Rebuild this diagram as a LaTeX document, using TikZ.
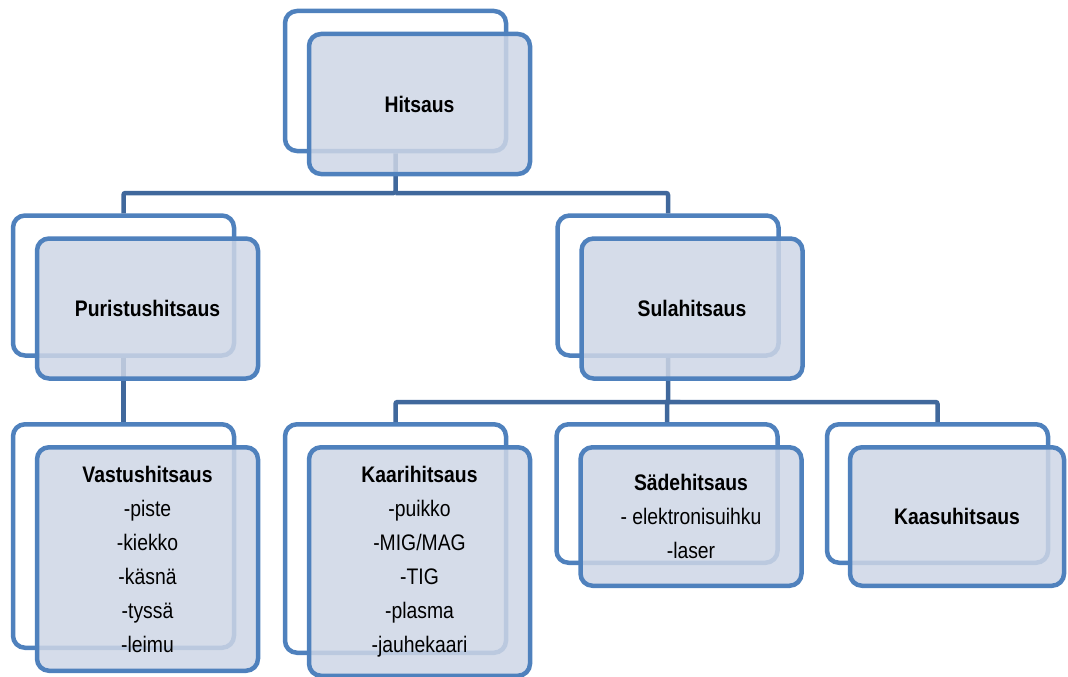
\documentclass[tikz,border=0pt]{standalone}
\usepackage{fontspec}
\setmainfont{Liberation Sans}[FakeStretch=0.86]
\usetikzlibrary{positioning}
\definecolor{boxline}{RGB}{79,129,189}
\definecolor{boxfill}{RGB}{206,214,230}
\definecolor{linkline}{RGB}{64,104,156}
\tikzset{
        back/.style={ % Outline box behind each entry
            draw=boxline, line width=4.5pt, rounded corners=12pt, fill=white,
            minimum width=221pt, minimum height=140pt},
        front/.style={ % Filled box in front, holds the text
            draw=boxline, line width=4.5pt, rounded corners=12pt,
            fill=boxfill, fill opacity=0.85, text opacity=1,
            minimum width=221pt, minimum height=140pt,
            xshift=24pt, yshift=-23pt, align=center,
            font=\fontsize{22.5}{34}\selectfont},
        link/.style={ % Tree connectors
            draw=linkline, line width=4.5pt, rounded corners=2pt}
        }

\begin{document}
\begin{tikzpicture}[x=1pt,y=-1pt]
    \useasboundingbox (0,0) rectangle (1068,677);

    % back outlines
    \node[back] (hitsausB) at (395.5,81) {};
    \node[back] (puristusB) at (123.5,285.5) {};
    \node[back] (sulaB) at (668,285.5) {};
    \node[back, minimum height=223.5pt] (vastusB) at (123.5,536) {};
    \node[back, minimum height=228.5pt] (kaariB) at (395.5,538.5) {};
    \node[back, minimum height=138.5pt] (sadeB) at (667,493.5) {};
    \node[back, minimum height=138.5pt] (kaasuB) at (937.5,493.5) {};

    % connectors
    \coordinate (fork1) at (hitsausB.south |- 0,193);
    \coordinate (fork2) at (sulaB.south |- 0,402);
    \draw[link] (hitsausB.south) -- (fork1) -| (puristusB.north);
    \draw[link] (fork1) -| (sulaB.north);
    \draw[link] (puristusB.south) -- (vastusB.north);
    \draw[link] (sulaB.south) -- (fork2) -| (kaariB.north);
    \draw[link] (fork2) -| (sadeB.north);
    \draw[link] (fork2) -| (kaasuB.north);

    % front boxes
    \node[front] (hitsaus) at (hitsausB) {\textbf{Hitsaus}};
    \node[front] (puristus) at (puristusB) {\textbf{Puristushitsaus}};
    \node[front] (sula) at (sulaB) {\textbf{Sulahitsaus}};
    \node[front, minimum height=223.5pt] (vastus) at (vastusB)
        {\textbf{Vastushitsaus}\\-piste\\-kiekko\\-käsnä\\-tyssä\\-leimu};
    \node[front, minimum height=228.5pt] (kaari) at (kaariB)
        {\textbf{Kaarihitsaus}\\-puikko\\-MIG/MAG\\-TIG\\-plasma\\-jauhekaari};
    \node[front, minimum height=138.5pt] (sade) at (sadeB)
        {\textbf{Sädehitsaus}\\- elektronisuihku\\-laser};
    \node[front, minimum height=138.5pt, minimum width=214pt, xshift=-4.5pt] (kaasu) at (kaasuB)
        {\textbf{Kaasuhitsaus}};
\end{tikzpicture}
\end{document}
